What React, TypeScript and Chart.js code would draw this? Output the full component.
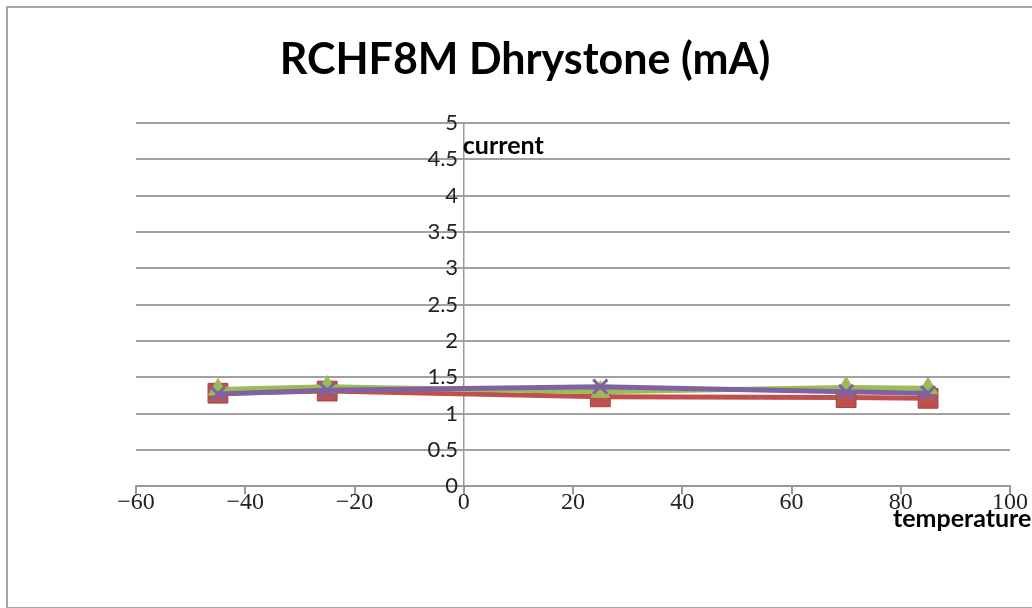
import React, { useEffect, useRef } from "react";
import { Chart, registerables } from "chart.js";

Chart.register(...registerables);

const chartTitle = "RCHF8M Dhrystone (mA)";
const yAxisName = "current";
const xAxisName = "temperature";

const temperatures = [-45, -25, 25, 70, 85];
const redSeries = [1.28, 1.31, 1.23, 1.22, 1.21];
const greenSeries = [1.33, 1.37, 1.3, 1.36, 1.35];
const purpleSeries = [1.27, 1.32, 1.37, 1.3, 1.28];

const xTicks = [-60, -40, -20, 0, 20, 40, 60, 80, 100];
const yTicks = [0, 0.5, 1, 1.5, 2, 2.5, 3, 3.5, 4, 4.5, 5];

const toPoints = (ys: number[]) => temperatures.map((x, i) => ({ x, y: ys[i] }));

const decorPlugin = {
  id: "decor",
  beforeDraw(chart: any) {
    const ctx = chart.ctx;
    ctx.save();
    ctx.fillStyle = "#ffffff";
    ctx.fillRect(0, 0, chart.width, chart.height);
    ctx.strokeStyle = "#a6a6a6";
    ctx.lineWidth = 2;
    ctx.strokeRect(7, 7, chart.width + 10, chart.height - 7);
    ctx.restore();
  },
  afterDraw(chart: any) {
    const ctx = chart.ctx;
    const xs = chart.scales.x;
    const ys = chart.scales.y;
    ctx.save();
    ctx.fillStyle = "#000000";
    ctx.textBaseline = "middle";
    ctx.textAlign = "center";
    ctx.font = "bold 43px Lato";
    ctx.fillText(chartTitle, 525, 60);
    ctx.textAlign = "left";
    ctx.font = "bold 25px Lato";
    ctx.fillText(yAxisName, xs.getPixelForValue(0) - 1, ys.getPixelForValue(4.68));
    ctx.fillText(xAxisName, 893, 519);
    ctx.restore();
  },
};

export default function App() {
  const ref = useRef<HTMLCanvasElement | null>(null);
  useEffect(() => {
    if (!ref.current) return;
    const chart = new Chart(ref.current, {
      type: "scatter",
      data: {
        datasets: [
          {
            label: "red",
            data: toPoints(redSeries),
            showLine: true,
            borderColor: "#C0504D",
            backgroundColor: "#C0504D",
            borderWidth: 5,
            pointStyle: "rect",
            pointRadius: 14,
            pointBorderWidth: 1,
            pointBorderColor: "#A8423F",
            order: 3,
          },
          {
            label: "green",
            data: toPoints(greenSeries),
            showLine: true,
            borderColor: "#9BBB59",
            backgroundColor: "#9BBB59",
            borderWidth: 5,
            pointStyle: "triangle",
            pointRadius: 11,
            pointBorderWidth: 1,
            order: 2,
          },
          {
            label: "purple",
            data: toPoints(purpleSeries),
            showLine: true,
            borderColor: "#7F63A1",
            backgroundColor: "#7F63A1",
            borderWidth: 5,
            pointStyle: "crossRot",
            pointRadius: 10,
            pointBorderWidth: 3,
            order: 1,
          },
        ],
      },
      options: {
        animation: false,
        responsive: false,
        devicePixelRatio: 1,
        layout: { padding: { left: 136, right: 22, top: 123, bottom: 97 } },
        plugins: { legend: { display: false }, tooltip: { enabled: false }, title: { display: false } },
        scales: {
          x: {
            type: "linear",
            position: "bottom",
            min: -60,
            max: 100,
            afterBuildTicks: (scale: any) => {
              scale.ticks = xTicks.map((v) => ({ value: v }));
            },
            grid: { drawOnChartArea: false, drawTicks: true, tickLength: 8, color: "#999999", lineWidth: 2 },
            border: { display: true, color: "#999999", width: 2 },
            ticks: {
              font: { family: "Liberation Serif", size: 24 },
              color: "#222222",
              padding: -6,
              maxRotation: 0,
              autoSkip: false,
              callback: (v: any) => (Number(v) < 0 ? "\u2212" + Math.abs(Number(v)) : String(v)),
            },
          },
          y: {
            type: "linear",
            position: { x: 0 } as any,
            min: 0,
            max: 5,
            afterBuildTicks: (scale: any) => {
              scale.ticks = yTicks.map((v) => ({ value: v }));
            },
            grid: { color: "#a0a0a0", lineWidth: 2, drawTicks: false },
            border: { display: true, color: "#999999", width: 1.5 },
            ticks: {
              font: { family: "Lato", size: 22 },
              color: "#222222",
              autoSkip: false,
              callback: (v: any) => String(v) + " ",
            },
          },
        },
      },
      plugins: [decorPlugin],
    });
    return () => chart.destroy();
  }, []);
  return (
    <div style={{ position: "absolute", left: 0, top: 0, width: 1032, height: 608 }}>
      <canvas ref={ref} width={1032} height={608} style={{ display: "block" }} />
    </div>
  );
}
